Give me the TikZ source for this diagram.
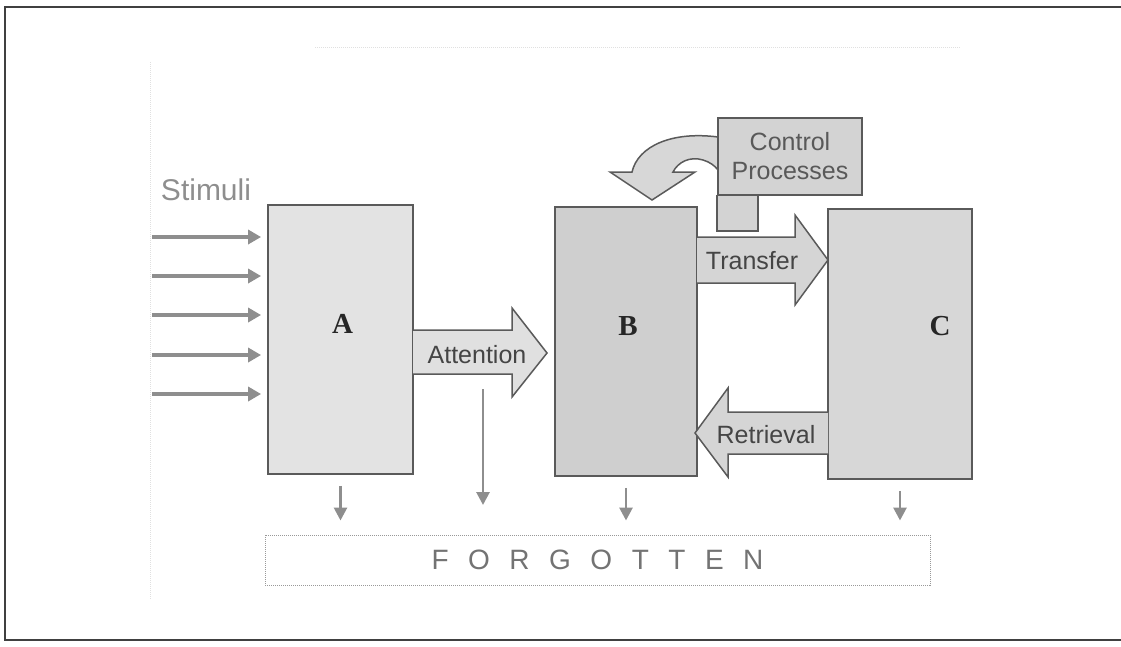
\documentclass[tikz,border=0pt]{standalone}
\usepackage{fontspec}
\setmainfont{Liberation Sans}
\newfontfamily\letterfont{Liberation Serif}
\usetikzlibrary{arrows.meta}

\definecolor{edgegray}{HTML}{5A5A5A}
\definecolor{stimgray}{HTML}{8E8E8E}
\definecolor{labeltext}{HTML}{454545}
\definecolor{fillA}{HTML}{E3E3E3}
\definecolor{fillB}{HTML}{CFCFCF}
\definecolor{fillC}{HTML}{D7D7D7}
\definecolor{fillctrl}{HTML}{D3D3D3}
\definecolor{fillatt}{HTML}{E0E0E0}
\definecolor{filltrans}{HTML}{D5D5D5}

\tikzset{
  memory/.style={draw=edgegray, line width=1.8pt, inner sep=0pt},
  tag/.style={font=\letterfont\bfseries\fontsize{29}{29}\selectfont, text=black!85},
  blockarrow/.style={draw=edgegray, line width=1.5pt, line join=miter},
  label/.style={font=\fontsize{25}{29}\selectfont, text=labeltext, align=center},
  stim/.style={draw=stimgray, line width=3.5pt, -{Triangle[length=13pt,width=14pt]}},
  drop/.style={draw=stimgray, line width=2.8pt, -{Triangle[length=13pt,width=13pt]}}
}

\begin{document}
\begin{tikzpicture}[x=1pt, y=-1pt]
  \useasboundingbox (0,0) rectangle (1121,646);
  % frame of the scan
  \draw[black!75, line width=1.5pt] (1121,7) -- (5,7) -- (5,640) -- (1121,640);
  \draw[black!12, densely dotted, line width=1pt] (315,47) -- (960,47);
  \draw[black!12, densely dotted, line width=1pt] (150,62) -- (150,600);

  % stores
  \node[memory, fill=fillA, minimum width=145pt, minimum height=269pt] (A) at (340.5,339.5) {};
  \node[memory, fill=fillB, minimum width=142pt, minimum height=269pt] (B) at (626,341.5) {};
  \node[memory, fill=fillC, minimum width=144pt, minimum height=270pt] (C) at (900,344) {};
  \node[tag] at ([xshift=2pt, yshift=16pt]A.center) {A};
  \node[tag] at ([xshift=2pt, yshift=15pt]B.center) {B};
  \node[tag] at ([xshift=40pt, yshift=18pt]C.center) {C};

  % stimuli
  \node[font=\fontsize{30}{30}\selectfont, text=stimgray] (stimuli) at (206,190) {Stimuli};
  \foreach \y [count=\i] in {237,276,315,355,394} {
    \coordinate (s\i) at (152,\y);
    \draw[stim, shorten >=6pt] (s\i) -- (s\i -| A.west);
  }

  % big arrows
  \filldraw[blockarrow, fill=fillatt] (413,330) -- (512,330) -- (512,308) -- (547,353)
    -- (512,397) -- (512,374) -- (413,374);
  \node[label] (att) at (477,355) {Attention};
  \filldraw[blockarrow, fill=filltrans] (697,237) -- (795,237) -- (795,215) -- (828,260)
    -- (795,305) -- (795,283) -- (697,283);
  \node[label] (trans) at (752,261) {Transfer};
  \filldraw[blockarrow, fill=filltrans] (828,412) -- (728,412) -- (728,388) -- (695,433)
    -- (728,477) -- (728,454) -- (828,454);
  \node[label] (retr) at (766,435) {Retrieval};

  % control processes
  \filldraw[blockarrow, fill=fillctrl] (717,195) -- (717,231) -- (758,231) -- (758,195);
  \filldraw[blockarrow, fill=fillC] (718,137) .. controls (672,131) and (638,146) .. (632,172)
    -- (610,172) -- (652,200) -- (695,172) -- (673,172)
    .. controls (678,162) and (690,156) .. (703,160)
    .. controls (710,162) and (715,166) .. (718,170);
  \node[memory, fill=fillctrl, minimum width=144pt, minimum height=77pt] (ctrl) at (790,156.5) {};
  \node[label, text=black!65] at (ctrl.center) {Control\\Processes};

  % forgotten
  \node[draw=black!40, densely dotted, line width=1pt, minimum width=665pt, minimum height=50pt,
    font=\fontsize{28}{28}\selectfont, text=black!55] (forgot) at (597.5,560)
    {\spaceskip=19.5pt F O R G O T T E N};
  \foreach \n in {A,B,C}
    \draw[drop, shorten <=11pt, shorten >=14pt] (\n.south) -- (\n.south |- forgot.north);
  \coordinate (attdrop) at (483,389);
  \draw[drop] (attdrop) -- ++(0,116);
\end{tikzpicture}
\end{document}
